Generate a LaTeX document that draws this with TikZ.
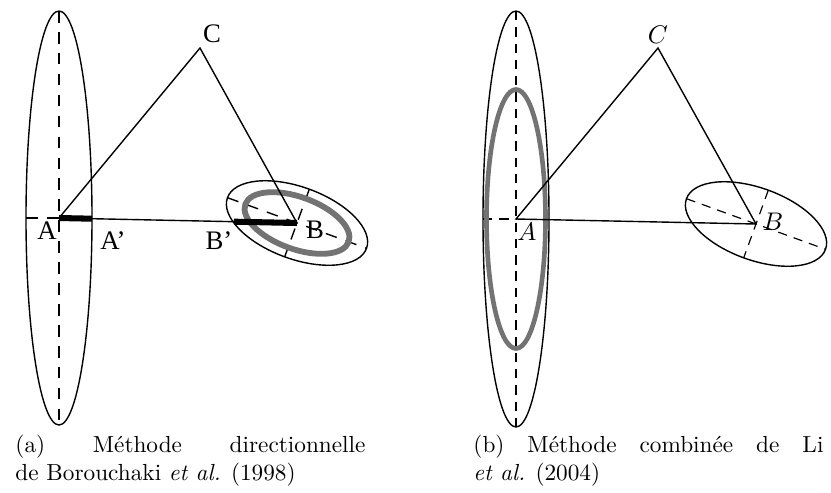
\documentclass[tikz,border=0pt]{standalone}
\usepackage{fontspec}
\usetikzlibrary{calc}
\newfontfamily\timesfont{Liberation Serif}

\tikzset{
    trait/.style={line width=0.6pt},
    axe/.style={line width=0.6pt, dash pattern=on 5pt off 4pt},
    axefin/.style={line width=0.5pt, dash pattern=on 4pt off 3pt},
    barre/.style={line width=2.6pt},
    metrique/.style={draw=black!55, line width=2.5pt},
    etiq/.style={inner sep=0pt, font=\timesfont\fontsize{11.5}{13}\selectfont},
    etiqm/.style={inner sep=0pt, font=\fontsize{10.5}{12}\selectfont},
    legende/.style={anchor=base west, inner sep=0pt, font=\fontsize{10}{12}\selectfont}
}

\begin{document}
\begin{tikzpicture}[x=0.43pt, y=-0.43pt]
    \useasboundingbox (0,0) rectangle (831,492);

    % 1. Points de la figure (a)
    \coordinate (A) at (59,218);
    \coordinate (B) at (297,223);
    \coordinate (C) at (200,48);
    \coordinate (A1) at ($(A)!0.139!(B)$);
    \coordinate (B1) at ($(B)!0.265!(A)$);

    % 2. Metrique en A (ellipse allongee)
    \draw[trait] (A) ellipse [x radius=33, y radius=207];
    \draw[axe] (59,11) -- (59,425);
    \draw[axe] (26,218) -- (A);

    % 3. Metrique en B
    \begin{scope}[shift={(B)}, rotate=-20]
        \draw[trait] (0,0) ellipse [x radius=74, y radius=36];
        \draw[axe] (-74,0) -- (74,0);
        \draw[axe] (0,-36) -- (0,36);
        \draw[metrique] (0,0) ellipse [x radius=55, y radius=26];
    \end{scope}

    % 4. Triangle et segments
    \draw[trait] (A) -- (C) -- (B) -- cycle;
    \draw[barre] (A) -- (A1);
    \draw[barre] (B1) -- (B);

    \node[etiq] (labC) at (212,34) {C};
    \node[etiq] (labA) at (47,231) {A};
    \node[etiq] (labA1) at (113,241) {A’};
    \node[etiq] (labB1) at (219,241) {B’};
    \node[etiq] (labB) at (315,230) {B};

    % 5. Points de la figure (b)
    \coordinate (A2) at (516,219);
    \coordinate (B2) at (756,224);
    \coordinate (C2) at (658,48);

    \draw[trait] (A2) ellipse [x radius=33, y radius=208];
    \draw[axefin] (516,11) -- (516,427);
    \draw[axefin] (483,219) -- (A2);
    \draw[metrique, line width=2pt] (A2) ellipse [x radius=29.5, y radius=129.5];

    \begin{scope}[shift={(B2)}, rotate=-20]
        \draw[trait] (0,0) ellipse [x radius=74, y radius=36];
        \draw[axefin] (-74,0) -- (74,0);
        \draw[axefin] (0,-36) -- (0,36);
    \end{scope}

    \draw[trait] (A2) -- (C2) -- (B2) -- cycle;

    \node[etiqm] (labC2) at (658,35) {$C$};
    \node[etiqm] (labA2) at (527,232) {$A$};
    \node[etiqm] (labB2) at (773,222) {$B$};

    % 6. Legendes
    \node[legende] (capa1) at (15,452) {\makebox[150.5pt][s]{(a) Méthode directionnelle}};
    \node[legende] (capa2) at (15,480) {de Borouchaki \emph{et al.} (1998)};
    \node[legende] (capb1) at (473,452) {\makebox[150.5pt][s]{(b) Méthode combinée de Li}};
    \node[legende] (capb2) at (473,480) {\emph{et al.} (2004)};
\end{tikzpicture}
\end{document}
